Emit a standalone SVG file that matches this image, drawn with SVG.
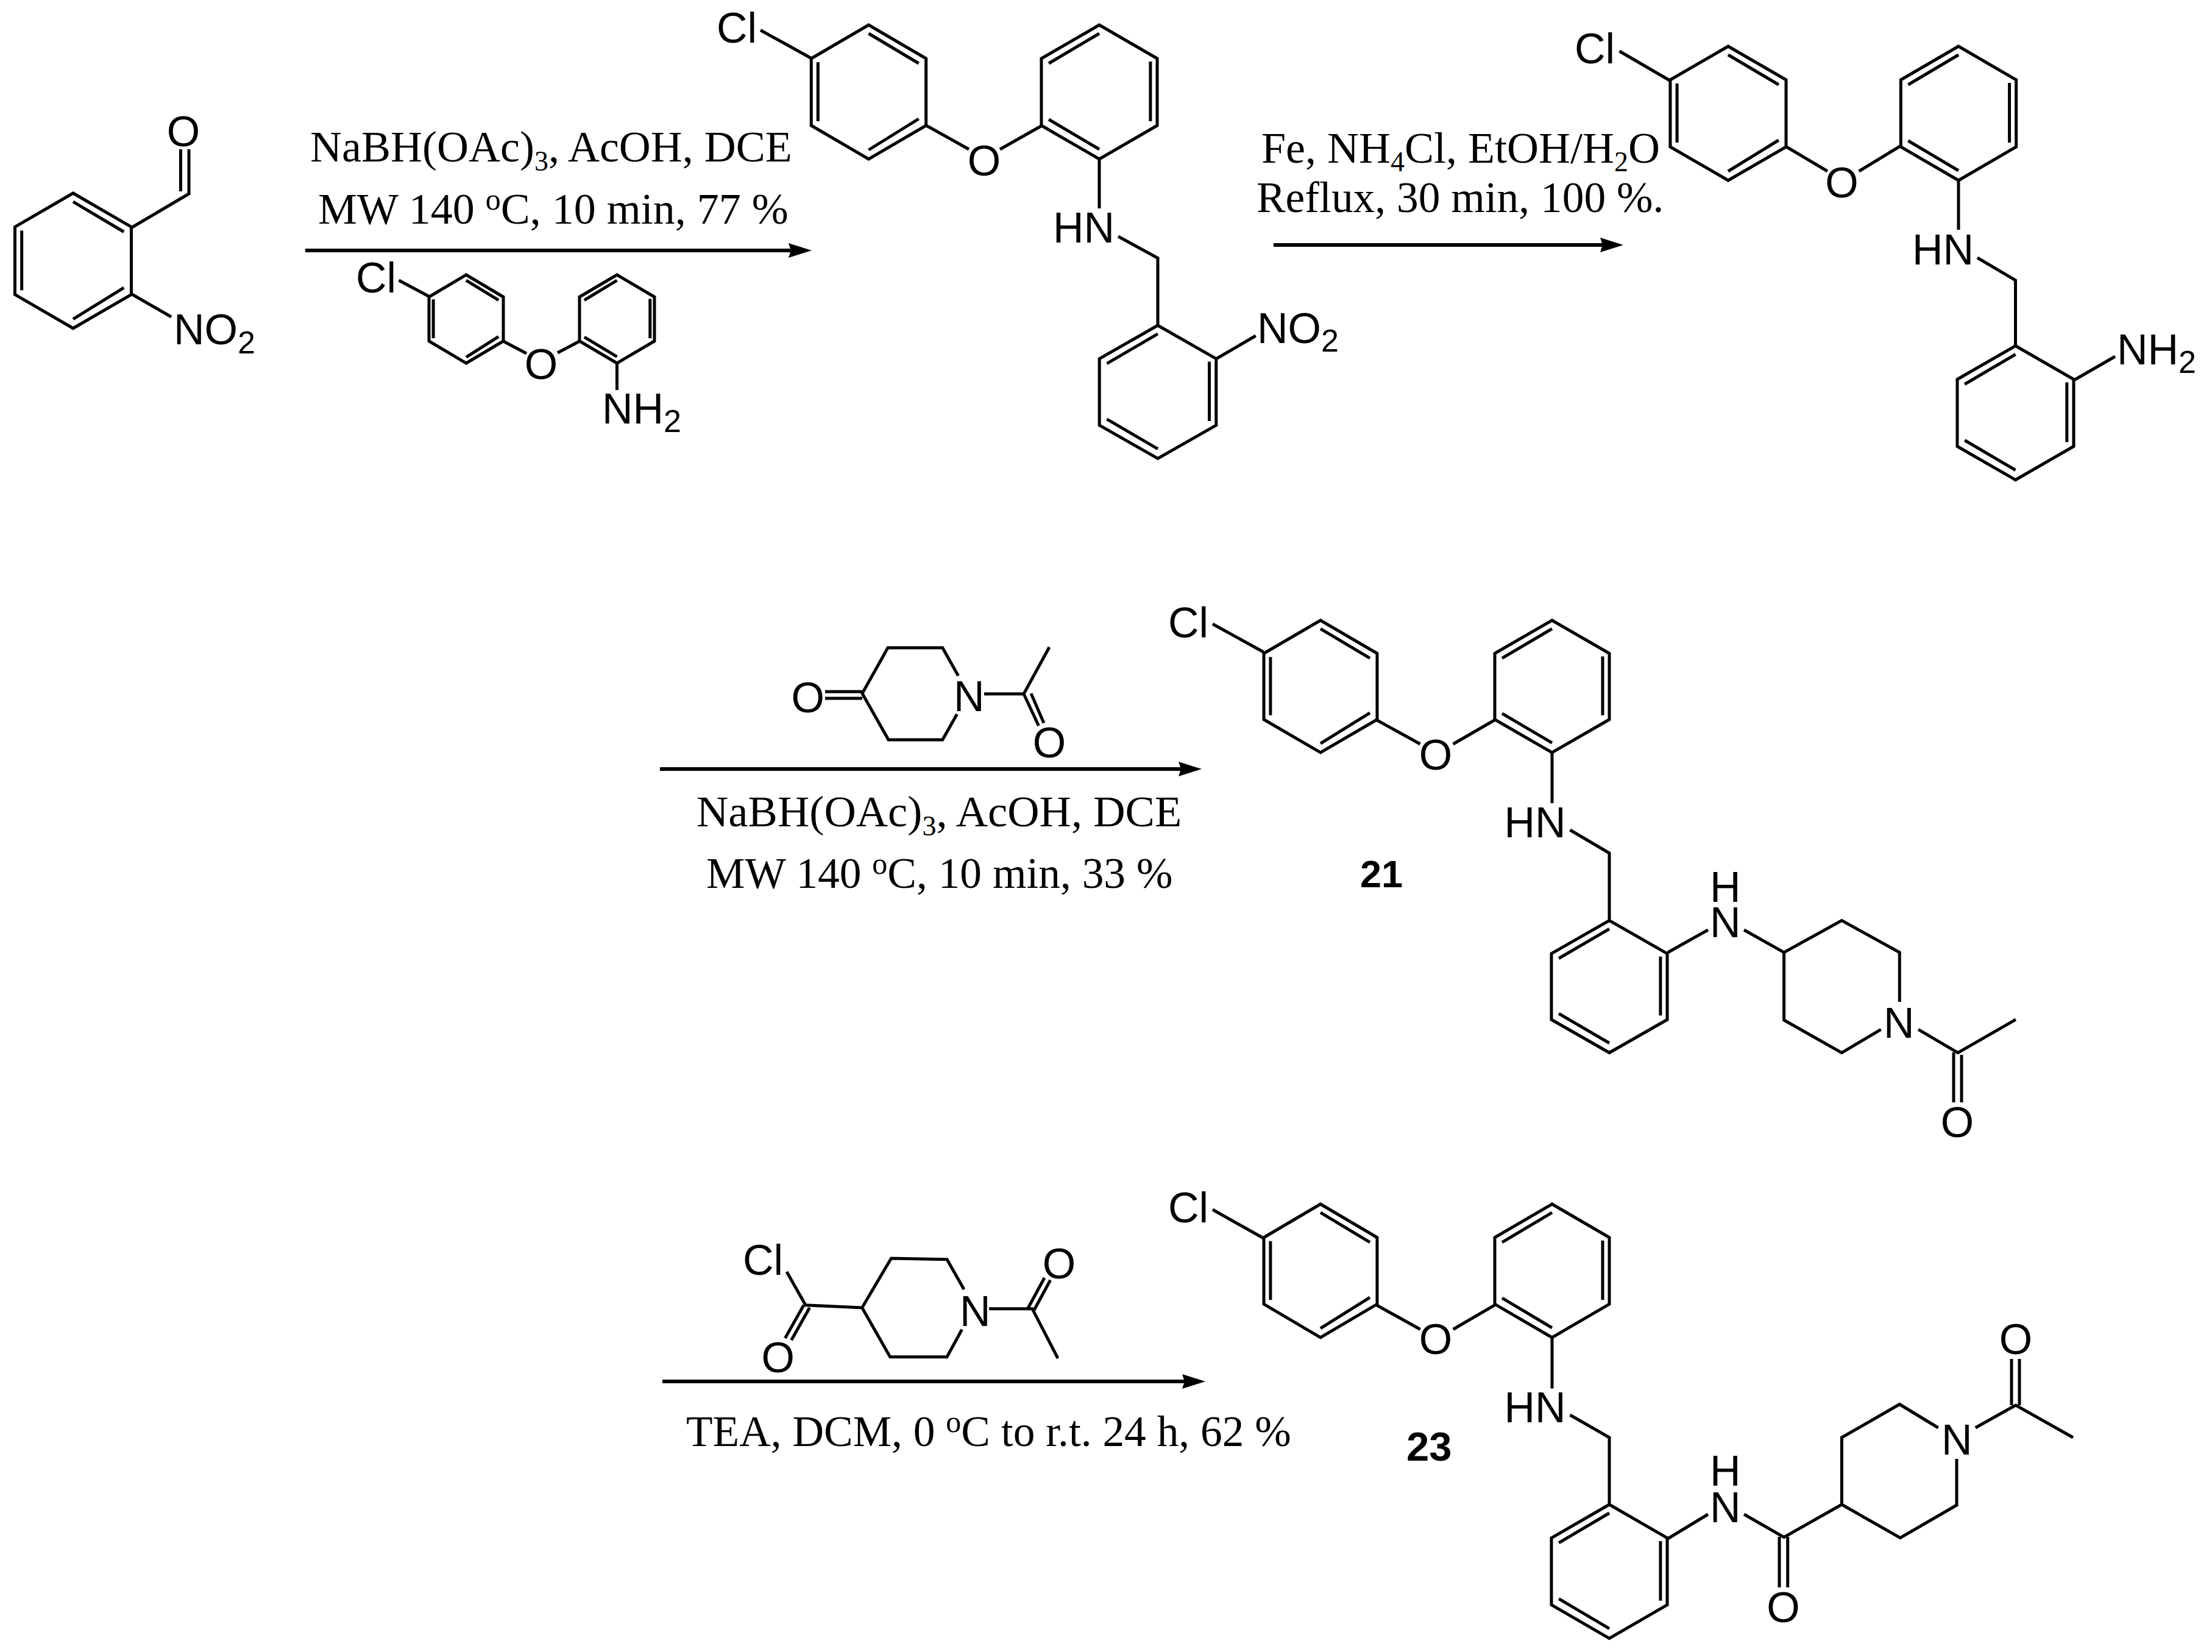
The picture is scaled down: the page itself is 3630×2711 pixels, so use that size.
<svg xmlns="http://www.w3.org/2000/svg" xmlns:xlink="http://www.w3.org/1999/xlink" width="3630" height="2711" viewBox="0 0 3630 2711">
<style>
.b{fill:none;stroke:#000;stroke-width:5;stroke-linejoin:miter;stroke-linecap:butt;vector-effect:non-scaling-stroke}
.a{fill:none;stroke:#000;stroke-width:6}
.s{font-family:"Liberation Sans",Arial,sans-serif;font-size:70px;fill:#000}
.c{text-anchor:middle}
.t{font-family:"Liberation Serif","Times New Roman",serif;font-size:72px;fill:#000}
.t2{font-size:71.4px}
.t3{font-size:72.5px}
.n{font-family:"Liberation Sans",Arial,sans-serif;font-weight:bold;fill:#000}
.sub{font-size:52px}
.ts{font-size:46px}
.tu{font-size:50px}
</style>
<defs>
<path id="ra" class="b" d="M0,0L94,55V165L0,220L-94,165V55ZM0,14L82,63M-83,61V158M0,205L82,154"/>
<path id="rb" class="b" d="M0,0L94,55V165L0,220L-94,165V55ZM0,14L-82,63M83,60V158M-82,155L0,204"/>
<marker id="h" markerUnits="userSpaceOnUse" markerWidth="38" markerHeight="24" refX="26" refY="12" orient="auto"><path d="M38,12L0,0L4,12L0,24Z" fill="#000"/></marker>
</defs>
<rect width="3630" height="2711" fill="#fff"/>
<g id="connectors">
<path class="a" marker-end="url(#h)" d="M501,411H1320"/>
<path class="a" marker-end="url(#h)" d="M2090,402H2652"/>
<path class="a" marker-end="url(#h)" d="M1083,1262H1960"/>
<path class="a" marker-end="url(#h)" d="M1087,2267H1966"/>
</g>
<g id="nitrobenzaldehyde">
<use xlink:href="#ra" href="#ra" transform="translate(120,317) scale(1.016,1.008)"/>
<path class="b" d="M215,374L310,318V245M296.5,245V314M215,482L281,520"/>
<text class="s c" x="301" y="240">O</text>
<text class="s" x="285" y="565">NO<tspan class="sub" dy="15">2</tspan></text>
</g>
<g id="conditions-1">
<text class="t" x="509" y="265">NaBH(OAc)<tspan class="ts" dy="15">3</tspan><tspan dy="-15">, AcOH, DCE</tspan></text>
<text class="t" x="522" y="367">MW 140 <tspan class="tu" dy="-23">o</tspan><tspan dy="23">C, 10 min, 77 %</tspan></text>
</g>
<g id="aminoether-reagent">
<use xlink:href="#ra" href="#ra" transform="translate(765,451) scale(.649,.659)"/>
<use xlink:href="#rb" href="#rb" transform="translate(1012.5,451) scale(.654,.659)"/>
<path class="b" d="M705,487L654.5,460M826,560L864,580M915,579L951,560M1012.5,596V640"/>
<text class="s" x="584" y="480">Cl</text>
<text class="s c" x="888" y="622">O</text>
<text class="s" x="988" y="695">NH<tspan class="sub" dy="14">2</tspan></text>
</g>
<g id="nitro-product">
<use xlink:href="#ra" href="#ra" transform="translate(1425.5,41) scale(1.002,1)"/>
<use xlink:href="#rb" href="#rb" transform="translate(1804,41) scale(1.011,1)"/>
<use xlink:href="#rb" href="#rb" transform="translate(1900,534) scale(1.019,.993)"/>
<path class="b" d="M1332,96L1248,49.5M1520,206L1590,245M1641,245L1710,206M1804,261V342M1835,388L1900,423.5V534M1995.6,589L2060.7,551"/>
<text class="s" x="1176" y="70">Cl</text>
<text class="s c" x="1615" y="288">O</text>
<text class="s" x="1728" y="398">HN</text>
<text class="s" x="2063" y="563">NO<tspan class="sub" dy="14">2</tspan></text>
</g>
<g id="conditions-2">
<text class="t" x="2070" y="267">Fe, NH<tspan class="ts" dy="14">4</tspan><tspan dy="-14">Cl, EtOH/H</tspan><tspan class="ts" dy="14">2</tspan><tspan dy="-14">O</tspan></text>
<text class="t t2" x="2062" y="348">Reflux, 30 min, 100 %.</text>
</g>
<g id="amino-product">
<use xlink:href="#ra" href="#ra" transform="translate(2836,76) scale(1.011,1)"/>
<use xlink:href="#rb" href="#rb" transform="translate(3214,76) scale(1.007,1)"/>
<use xlink:href="#rb" href="#rb" transform="translate(3307.5,567.5) scale(1.016,1)"/>
<path class="b" d="M2740,132L2657.6,84M2930,240L2999,281M3050.6,281L3118,240M3214,296V377M3245,423L3307.5,460V567.5M3405,623L3471,585"/>
<text class="s" x="2584" y="104">Cl</text>
<text class="s c" x="3022.4" y="324">O</text>
<text class="s" x="3138" y="433.6">HN</text>
<text class="s" x="3474" y="598">NH<tspan class="sub" dy="14">2</tspan></text>
</g>
<g id="acetylpiperidone">
<path class="b" d="M1572.6,1109L1546.7,1063H1457L1415,1138L1458,1214H1546.7L1570.5,1172M1615,1138.7H1680L1722,1062M1680,1138.7L1704.5,1191M1692,1138L1713,1186.5M1354,1135H1415M1354,1146H1415"/>
<text class="s c" x="1325.7" y="1169">O</text>
<text class="s" x="1565" y="1167">N</text>
<text class="s c" x="1722" y="1243">O</text>
</g>
<g id="conditions-3">
<text class="t t3" x="1143" y="1356">NaBH(OAc)<tspan class="ts" dy="15">3</tspan><tspan dy="-15">, AcOH, DCE</tspan></text>
<text class="t t2" x="1159" y="1457">MW 140 <tspan class="tu" dy="-23">o</tspan><tspan dy="23">C, 10 min, 33 %</tspan></text>
</g>
<g id="compound-21">
<use xlink:href="#ra" href="#ra" transform="translate(2167,1018) scale(.989,.986)"/>
<use xlink:href="#rb" href="#rb" transform="translate(2547,1018) scale(1,.986)"/>
<use xlink:href="#rb" href="#rb" transform="translate(2641,1510.6) scale(1.011,.986)"/>
<path class="b" d="M2073.5,1070L1990,1024M2259,1181.5L2330.6,1221M2384.7,1221L2453,1181.5M2547,1235V1318M2576.5,1362L2641,1400V1510.6M2737,1563L2803,1526M2862,1526L2927.6,1563L3022.4,1510.6L3117.3,1563V1644M2927.6,1563V1674L3022.4,1727.6L3086.7,1689.4M3148,1689.4L3213,1727.6L3308,1673M3206,1727V1809M3219,1731V1809"/>
<text class="s" x="1917" y="1046">Cl</text>
<text class="s c" x="2356" y="1263">O</text>
<text class="s" x="2468.5" y="1374">HN</text>
<text class="s"><tspan x="2806" y="1480">H</tspan><tspan x="2806" y="1538">N</tspan></text>
<text class="s" x="3091" y="1702.7">N</text>
<text class="s c" x="3212" y="1866">O</text>
<text class="n" x="2232" y="1456" font-size="63">21</text>
</g>
<g id="acid-chloride">
<path class="b" d="M1291,2087L1322,2141.7L1414.7,2146L1462.5,2065L1554,2066.7L1582,2116M1414.7,2146L1460.7,2226.7H1554L1578.6,2181.7M1623,2147.7H1694L1736,2229M1687,2146.7L1714,2097M1696,2151.7L1723.7,2100.7M1319,2141.7L1288.4,2196M1328.6,2146L1298.7,2199.3"/>
<text class="s" x="1219" y="2092">Cl</text>
<text class="s c" x="1276.8" y="2252">O</text>
<text class="s" x="1575" y="2176">N</text>
<text class="s c" x="1738" y="2098">O</text>
</g>
<g id="conditions-4">
<text class="t t2" x="1126" y="2373">TEA, DCM, 0 <tspan class="tu" dy="-23">o</tspan><tspan dy="23">C to r.t. 24 h, 62 %</tspan></text>
</g>
<g id="compound-23">
<use xlink:href="#ra" href="#ra" transform="translate(2167,1976) scale(.989,.995)"/>
<use xlink:href="#rb" href="#rb" transform="translate(2547,1976) scale(1,.995)"/>
<use xlink:href="#rb" href="#rb" transform="translate(2641,2469) scale(1.011,.998)"/>
<path class="b" d="M2073.5,2032L1990,1985M2259,2141.7L2330.6,2181.5M2384.7,2181.5L2453,2141.7M2547,2195V2278.6M2576.5,2322L2641,2359V2469M2737,2525L2803,2485M2862,2485L2927.6,2522.6L3022.4,2469V2359L3117.3,2304.5L3180.6,2343M3022.4,2469L3118.4,2523.6L3211,2470V2394M3241.8,2343L3308,2306L3402,2359M3301,2306V2230M3314,2306V2230M2920,2522V2605M2933.7,2522V2605"/>
<text class="s" x="1917" y="2005.7">Cl</text>
<text class="s c" x="2356" y="2222">O</text>
<text class="s" x="2468.5" y="2334.4">HN</text>
<text class="s"><tspan x="2806" y="2438">H</tspan><tspan x="2806" y="2497.7">N</tspan></text>
<text class="s c" x="2926.5" y="2662">O</text>
<text class="s" x="3186" y="2387">N</text>
<text class="s c" x="3308" y="2222">O</text>
<text class="n" x="2308" y="2396.6" font-size="67">23</text>
</g>
</svg>
